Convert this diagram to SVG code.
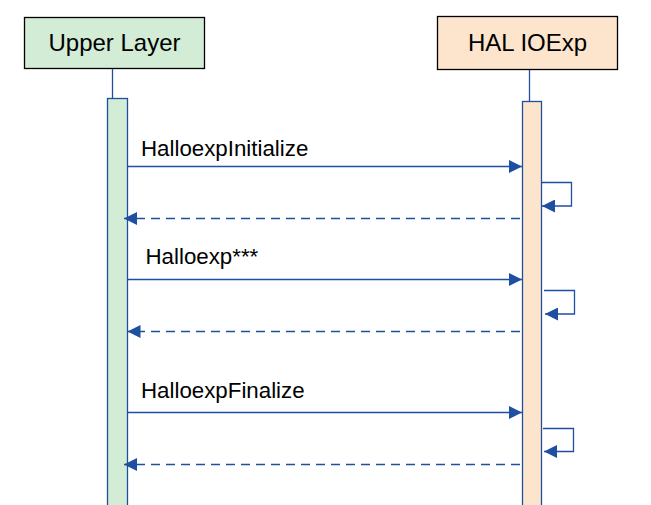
<svg xmlns="http://www.w3.org/2000/svg" width="651" height="505" viewBox="0 0 651 505">
<defs>
<style>
.hdr{stroke:#000;stroke-width:1.3}
.t{font-family:"Liberation Sans",Arial,sans-serif;fill:#000}
.h{font-size:24px;text-anchor:middle}
.m{font-size:22.3px}
.ln{stroke:#1f4fa0;stroke-width:1.3;fill:none}
.d{stroke-dasharray:9 6}
</style>
<marker id="ah" markerWidth="14" markerHeight="13" refX="13" refY="6.5" orient="auto" markerUnits="userSpaceOnUse">
<path d="M0,0 L13,6.5 L0,13 Z" fill="#1f4fa0"/>
</marker>
</defs>
<rect width="651" height="505" fill="#fff"/>
<g id="upper">
<rect class="hdr" x="24.5" y="17.5" width="180" height="51" fill="#d2ecd5"/>
<text class="t h" x="114.5" y="51">Upper Layer</text>
<line class="ln" x1="112.5" y1="69" x2="112.5" y2="98"/>
<rect x="107.5" y="98.5" width="20" height="410" fill="#d2ecd5" stroke="#1f4fa0" stroke-width="1.3"/>
</g>
<g id="hal">
<rect class="hdr" x="437.5" y="16.5" width="180" height="53" fill="#fde5cd"/>
<text class="t h" x="527.5" y="51">HAL IOExp</text>
<line class="ln" x1="529.5" y1="70" x2="529.5" y2="101"/>
<rect x="522.5" y="101.5" width="19" height="410" fill="#fde5cd" stroke="#1f4fa0" stroke-width="1.3"/>
</g>
<g id="connectors">
<line class="ln" x1="127.5" y1="166.5" x2="522" y2="166.5" marker-end="url(#ah)"/>
<polyline class="ln" points="541.5,182.5 571.5,182.5 571.5,206 542,206" marker-end="url(#ah)"/>
<line class="ln d" x1="520" y1="218.5" x2="124" y2="218.5" marker-end="url(#ah)"/>
<line class="ln" x1="127.5" y1="279.5" x2="522" y2="279.5" marker-end="url(#ah)"/>
<polyline class="ln" points="544,290.5 574.5,290.5 574.5,314 545,314" marker-end="url(#ah)"/>
<line class="ln d" x1="520" y1="331.5" x2="127.5" y2="331.5" marker-end="url(#ah)"/>
<line class="ln" x1="127.5" y1="412.5" x2="522" y2="412.5" marker-end="url(#ah)"/>
<polyline class="ln" points="543,428.5 573.5,428.5 573.5,451.5 544,451.5" marker-end="url(#ah)"/>
<line class="ln d" x1="520" y1="464.5" x2="124" y2="464.5" marker-end="url(#ah)"/>
</g>
<g id="labels">
<text class="t m" x="141" y="156">HalloexpInitialize</text>
<text class="t m" x="145.5" y="264">Halloexp***</text>
<text class="t m" x="141" y="398">HalloexpFinalize</text>
</g>
</svg>
